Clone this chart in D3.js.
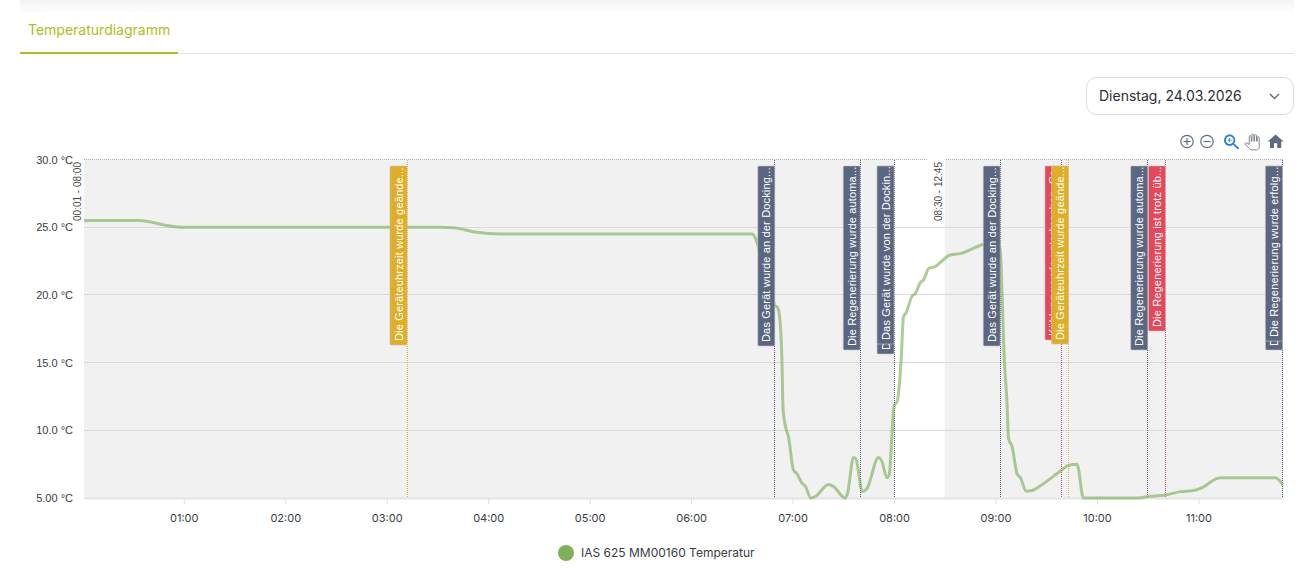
<!DOCTYPE html>
<html lang="de">
<head>
<meta charset="utf-8">
<title>Temperaturdiagramm</title>
<script src="https://cdn.jsdelivr.net/npm/d3@7"></script>
<style>
  html, body { margin: 0; padding: 0; background: #fff; overflow: hidden; }
  svg { display: block; font-family: Inter, "Noto Sans", sans-serif; }
</style>
</head>
<body>
<div id="chart"></div>
<script>
// 1: DATA (time in minutes after midnight, temperature in °C)
const minutes = [1, 34, 40, 49, 59.4, 211.5, 220, 232, 247, 396, 398, 401, 405.6, 409.7, 411, 412,
  413.7, 414.4, 416, 417.6, 420.5, 422.5, 425.5, 427.4, 430.8, 433.4, 441.2, 444.2, 451, 452.5,
  456, 457.4, 461.3, 464, 470.8, 472.8, 475.8, 477.1, 480, 482, 484.2, 485.6, 487, 490.6, 492.6,
  495.5, 497.4, 500.8, 503.3, 513.2, 519, 532, 541.6, 542.8, 545.2, 546.8, 547.7, 549.8, 552.7,
  554.7, 558.2, 561.6, 566.5, 574.2, 578.4, 583, 588.2, 592, 624.5, 629.6, 640.5, 649.4, 657.2, 661,
  673, 705.5, 710];
const temperature = [25.5, 25.5, 25.4, 25.15, 25, 25, 24.95, 24.65, 24.5, 24.5, 24.2, 23, 21, 19.2, 19.1, 18.7,
  15.2, 11.5, 10.2, 9.5, 7.07, 6.8, 6.1, 5.9, 5, 5.1, 6, 5.85, 5, 5.35,
  8, 7.9, 5.47, 5.7, 8, 7.7, 6.5, 6.7, 11.75, 12.2, 15.2, 18.4, 18.65, 19.9, 20.1,
  20.9, 21.1, 22, 22.05, 22.95, 23.05, 23.7, 24, 23.3, 15.2, 12, 9.4, 8.8, 6.8,
  6.5, 5.5, 5.55, 5.9, 6.6, 7, 7.4, 7.5, 5, 5, 5.1, 5.22, 5.47, 5.55, 5.7,
  6.5, 6.5, 5.95];

const yTicks = [5, 10, 15, 20, 25, 30];
const yTickLabels = ["5.00 °C", "10.0 °C", "15.0 °C", "20.0 °C", "25.0 °C", "30.0 °C"];
const xTicks = [60, 120, 180, 240, 300, 360, 420, 480, 540, 600, 660];

// grey bands with their time range label, white gap in between
const bandStarts = [1, 510];
const bandEnds = [480, 710];
const bandLabels = ["00:01 - 08:00", "08:30 - 12:45"];

// event annotations, drawn back to front
const eventTimes = [192, 409.5, 460, 480, 480, 542.8, 579.3, 583.2, 630, 640.5, 709.7, 709.7];
const eventTexts = [
  "Die Geräteuhrzeit wurde geände...",
  "Das Gerät wurde an der Docking...",
  "Die Regenerierung wurde automa...",
  "Das Gerät wurde von der Docking...",
  "Das Gerät wurde von der Dockin...",
  "Das Gerät wurde an der Docking...",
  "Kühlung wurde unterbrochen, Gr...",
  "Die Geräteuhrzeit wurde geände...",
  "Die Regenerierung wurde automa...",
  "Die Regenerierung ist trotz üb...",
  "Das Gerät wurde von der Docking...",
  "Die Regenerierung wurde erfolg..."
];
const eventKinds = ["warn", "info", "info", "info", "info", "info", "error", "warn", "info", "error", "info", "info"];
const eventBoxLengths = [179, 180, 184, 188, 178, 180, 174, 178, 184, 165, 184, 175];

const seriesName = "IAS 625 MM00160 Temperatur";
const pageTitle = "Temperaturdiagramm";
const dateLabel = "Dienstag, 24.03.2026";

// 2: GLOBAL VARIABLES
const pageWidth = 1308;
const pageHeight = 584;
const plot = { left: 84, right: 1283, top: 159.5, bottom: 498 };
const kindFill = { warn: "#dfae27", info: "#5b6781", error: "#e6475a" };
const kindLine = { warn: "#f0b429", info: "#4c5a7c", error: "#e6475a" };
const labelFont = '"Liberation Sans", Arial, sans-serif';

const svg = d3.select("#chart")
  .append("svg")
  .attr("width", pageWidth)
  .attr("height", pageHeight);

// soft shadow of the header above the page
const defs = svg.append("defs");
const shadow = defs.append("linearGradient")
  .attr("id", "headerShadow")
  .attr("x1", 0).attr("y1", 0).attr("x2", 0).attr("y2", 1);
shadow.append("stop").attr("offset", 0).attr("stop-color", "#f3f3f3");
shadow.append("stop").attr("offset", 1).attr("stop-color", "#ffffff");
svg.append("rect")
  .attr("x", 20).attr("y", 0)
  .attr("width", 1274).attr("height", 14)
  .attr("fill", "url(#headerShadow)");

// 3: TAB AND DATE SELECT
svg.append("text")
  .attr("x", 28).attr("y", 35)
  .attr("font-size", 14)
  .attr("fill", "#a9bf24")
  .text(pageTitle);
svg.append("line")
  .attr("x1", 20).attr("x2", 1294).attr("y1", 53.5).attr("y2", 53.5)
  .attr("stroke", "#e3e3ea");
svg.append("line")
  .attr("x1", 20).attr("x2", 178).attr("y1", 53).attr("y2", 53)
  .attr("stroke", "#a9bf24").attr("stroke-width", 2);

svg.append("rect")
  .attr("x", 1086.5).attr("y", 77.5)
  .attr("width", 207).attr("height", 37)
  .attr("rx", 10)
  .attr("fill", "#fff").attr("stroke", "#dcdcdc");
svg.append("text")
  .attr("x", 1099).attr("y", 101)
  .attr("font-size", 14)
  .attr("fill", "#2b2f36")
  .text(dateLabel);
svg.append("path")
  .attr("d", "M1270 94l4.5 4.5l4.5-4.5")
  .attr("fill", "none").attr("stroke", "#666").attr("stroke-width", 1.3);

// 4: SCALES
const xScale = d3.scaleLinear()
  .domain([1, 710])
  .range([plot.left, plot.right]);
const yScale = d3.scaleLinear()
  .domain([5, 30])
  .range([plot.bottom, plot.top]);
const crisp = v => Math.floor(v) + 0.5;

// 5: BANDS AND GRID
svg.selectAll(".band")
  .data(bandStarts)
  .enter()
  .append("rect")
  .attr("class", "band")
  .attr("x", d => xScale(d))
  .attr("y", plot.top)
  .attr("width", (d, i) => xScale(bandEnds[i]) - xScale(d))
  .attr("height", plot.bottom - plot.top)
  .attr("fill", "#f1f1f1");

svg.append("line")
  .attr("x1", plot.left).attr("x2", plot.right)
  .attr("y1", plot.top).attr("y2", plot.top)
  .attr("stroke", "#b0b0b0")
  .attr("stroke-dasharray", "1 1")
  .attr("shape-rendering", "crispEdges");

svg.append("g")
  .selectAll("line")
  .data(yTicks.slice(1, -1))
  .enter()
  .append("line")
  .attr("x1", plot.left).attr("x2", plot.right)
  .attr("y1", d => crisp(yScale(d))).attr("y2", d => crisp(yScale(d)))
  .attr("stroke", "#dadada");

// 6: AXES
const xAxis = d3.axisBottom(xScale)
  .tickValues(xTicks)
  .tickSize(6)
  .tickSizeOuter(0)
  .tickFormat(d => d3.format("02")(d / 60) + ":00");
const xAxisGroup = svg.append("g")
  .attr("transform", `translate(0, ${plot.bottom})`)
  .call(xAxis);
xAxisGroup.select(".domain")
  .attr("stroke", "#e4e4e4")
  .attr("stroke-width", 2);
xAxisGroup.selectAll(".tick line").attr("stroke", "#e0e0e0");
xAxisGroup.selectAll(".tick text")
  .attr("y", 16)
  .attr("font-size", 11)
  .attr("font-family", "Inter, sans-serif")
  .attr("fill", "#373d3f");

const yAxis = d3.axisLeft(yScale)
  .tickValues(yTicks)
  .tickSize(0)
  .tickFormat((d, i) => yTickLabels[i]);
const yAxisGroup = svg.append("g")
  .attr("transform", `translate(${plot.left}, 0)`)
  .call(yAxis);
yAxisGroup.select(".domain").remove();
yAxisGroup.selectAll(".tick text")
  .attr("x", -11)
  .attr("font-size", 11)
  .attr("font-family", labelFont)
  .attr("fill", "#373d3f");

// 7: EVENT LINES, UNDER THE SERIES
svg.selectAll(".event-line")
  .data(eventTimes)
  .enter()
  .append("line")
  .attr("class", "event-line")
  .attr("x1", d => crisp(xScale(d))).attr("x2", d => crisp(xScale(d)))
  .attr("y1", plot.top).attr("y2", plot.bottom)
  .attr("stroke", (d, i) => kindLine[eventKinds[i]])
  .attr("stroke-dasharray", "1 1")
  .attr("shape-rendering", "crispEdges");

// 8: TEMPERATURE LINE
const points = minutes.map((m, i) => [m, temperature[i]]);
const line = d3.line()
  .x(d => xScale(d[0]))
  .y(d => yScale(d[1]))
  .curve(d3.curveMonotoneX);
svg.append("path")
  .datum(points)
  .attr("d", line)
  .attr("fill", "none")
  .attr("stroke", "#7fb05a")
  .attr("stroke-opacity", 0.64)
  .attr("stroke-width", 3)
  .attr("stroke-linejoin", "round");

// 9: BAND LABELS
bandLabels.forEach((label, i) => {
  const labelX = xScale(bandStarts[i]) - 7;
  if (i === 1) {
    svg.append("rect")
      .attr("x", labelX - 10).attr("y", 157)
      .attr("width", 17).attr("height", 5)
      .attr("fill", "#fff");
  }
  svg.append("text")
    .attr("transform", `translate(${labelX + 4}, 162) rotate(-90)`)
    .attr("text-anchor", "end")
    .attr("font-size", 10)
    .attr("font-family", labelFont)
    .attr("fill", "#4a4a4a")
    .text(label);
});

// 10: EVENT LABELS
const boxTop = 166;
const boxWidth = 17;
const boxes = svg.selectAll(".event-box")
  .data(eventTimes)
  .enter()
  .append("g")
  .attr("class", "event-box");
boxes.append("rect")
  .attr("x", d => xScale(d) - boxWidth)
  .attr("y", boxTop)
  .attr("width", boxWidth)
  .attr("height", (d, i) => eventBoxLengths[i])
  .attr("rx", 1)
  .attr("fill", (d, i) => kindFill[eventKinds[i]])
  .attr("stroke", "#c4c4c4")
  .attr("stroke-width", 0.6);
boxes.append("text")
  .attr("transform", (d, i) => `translate(${xScale(d) - 4.5}, ${boxTop + eventBoxLengths[i] - 4}) rotate(-90)`)
  .attr("font-size", 11)
  .attr("letter-spacing", 0.16)
  .attr("font-family", labelFont)
  .attr("fill", "#fff")
  .text((d, i) => eventTexts[i]);

// 11: TOOLBAR ICONS
const iconHome = "M10 20v-6h4v6h5v-8h3L12 3 2 12h3v8z";
const iconSearch = "M15.5 14h-.79l-.28-.27C15.41 12.59 16 11.11 16 9.5 16 5.91 13.09 3 9.5 3S3 5.91 3 9.5 5.91 16 9.5 16c1.61 0 3.09-.59 4.23-1.57l.27.28v.79l5 4.99L20.49 19l-4.99-5zm-6 0C7.01 14 5 11.99 5 9.5S7.01 5 9.5 5 14 7.01 14 9.5 11.99 14 9.5 14z M10 7H9v2H7v1h2v2h1v-2h2V9h-2z";
const iconHand = "M23 5.5V20c0 2.2-1.8 4-4 4h-7.3c-1.08 0-2.1-.43-2.85-1.19L1 14.83s1.26-1.23 1.3-1.25c.22-.19.49-.29.79-.29.22 0 .42.06.6.16.04.01 4.31 2.46 4.31 2.46V4c0-.83.67-1.5 1.5-1.5S11 3.17 11 4v7h1V1.5c0-.83.67-1.5 1.5-1.5S15 .67 15 1.5V11h1V2.5c0-.83.67-1.5 1.5-1.5s1.5.67 1.5 1.5V11h1V5.5c0-.83.67-1.5 1.5-1.5s1.5.67 1.5 1.5z";

const toolbar = svg.append("g");
[1187, 1207].forEach((cx, i) => {
  toolbar.append("circle")
    .attr("cx", cx).attr("cy", 141.5).attr("r", 6.2)
    .attr("fill", "none").attr("stroke", "#5f6b80").attr("stroke-width", 1.2);
  toolbar.append("line")
    .attr("x1", cx - 3.5).attr("x2", cx + 3.5).attr("y1", 141.5).attr("y2", 141.5)
    .attr("stroke", "#5f6b80").attr("stroke-width", 1.2);
  if (i === 0) {
    toolbar.append("line")
      .attr("x1", cx).attr("x2", cx).attr("y1", 138).attr("y2", 145)
      .attr("stroke", "#5f6b80").attr("stroke-width", 1.2);
  }
});
toolbar.append("path")
  .attr("d", iconSearch)
  .attr("transform", "translate(1221.5, 132) scale(0.86)")
  .attr("fill", "#1f7ae0");
toolbar.append("path")
  .attr("d", iconHand)
  .attr("transform", "translate(1244, 134) scale(0.66)")
  .attr("fill", "#fff").attr("stroke", "#7c8494").attr("stroke-width", 1.5);
toolbar.append("path")
  .attr("d", iconHome)
  .attr("transform", "translate(1266, 132) scale(0.8)")
  .attr("fill", "#5f6b80");

// 12: LEGEND
svg.append("circle")
  .attr("cx", 566).attr("cy", 553).attr("r", 8)
  .attr("fill", "#7fb05a");
svg.append("text")
  .attr("x", 581).attr("y", 557)
  .attr("font-size", 12)
  .attr("fill", "#373d3f")
  .text(seriesName);
</script>
</body>
</html>
